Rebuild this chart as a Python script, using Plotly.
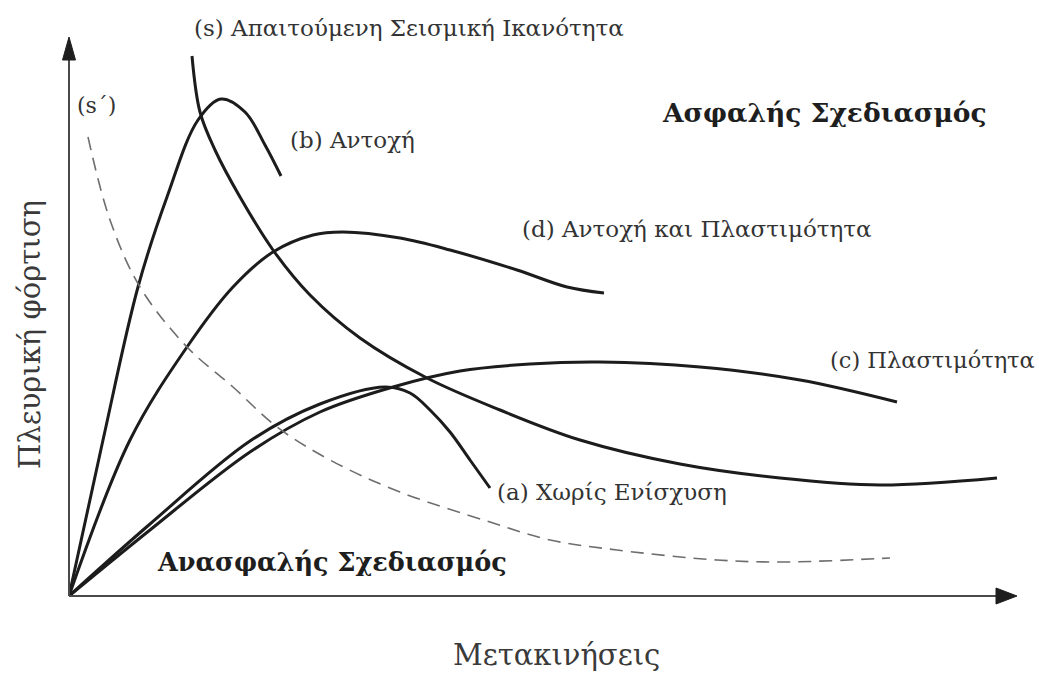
import plotly.graph_objects as go

# Schematic load-displacement curves (arbitrary units: displacement, lateral load)
b_x = [0, 34, 69, 98, 129, 152, 176, 196, 212]
b_y = [0, 156, 309, 399, 476, 497, 484, 451, 420]

d_x = [0, 61, 118, 164, 204, 244, 274, 331, 381, 448, 498, 535]
d_y = [0, 156, 249, 309, 344, 361, 364, 358, 346, 326, 309, 303]

c_x = [0, 81, 181, 251, 324, 391, 461, 531, 631, 731, 828]
c_y = [0, 66, 144, 184, 209, 225, 232, 234, 229, 216, 194]

a_x = [0, 81, 181, 251, 316, 341, 361, 381, 401, 421]
a_y = [0, 72, 155, 192, 209, 203, 186, 164, 136, 108]

# required seismic capacity (s) and reduced demand (s')
s_x = [123, 131, 146, 171, 204, 241, 291, 358, 431, 511, 611, 711, 811, 928]
s_y = [540, 484, 446, 399, 346, 301, 258, 218, 186, 156, 132, 118, 111, 118]

sp_x = [19, 41, 71, 118, 164, 208, 261, 331, 421, 481, 548, 648, 714, 821]
sp_y = [459, 376, 309, 249, 209, 169, 136, 104, 74, 56, 46, 36, 34, 38]

X_MAX, Y_MAX = 960, 560
X_TIP, Y_TIP = 948, 559

FONT = "DejaVu Serif, Liberation Serif, serif"
CURVE = "#1c1c1c"

fig = go.Figure()

for xs, ys in [(b_x, b_y), (d_x, d_y), (c_x, c_y), (a_x, a_y), (s_x, s_y)]:
    fig.add_trace(go.Scatter(
        x=xs, y=ys, mode="lines",
        line=dict(color=CURVE, width=3, shape="spline", smoothing=1.0),
        hoverinfo="skip", showlegend=False, cliponaxis=False,
    ))

fig.add_trace(go.Scatter(
    x=sp_x, y=sp_y, mode="lines",
    line=dict(color="#6e6e6e", width=1.6, dash="13px,8px", shape="spline", smoothing=1.0),
    hoverinfo="skip", showlegend=False, cliponaxis=False,
))


def px(v):
    return v / X_MAX


def py(v):
    return v / Y_MAX


# axes with arrowheads (paper coordinates so nothing is clipped)
axis_col = "#4a4a4a"
head = "#1e1e1e"
shapes = [
    dict(type="line", xref="paper", yref="paper",
         x0=0, y0=0, x1=px(X_TIP - 18), y1=0, line=dict(color=axis_col, width=2)),
    dict(type="line", xref="paper", yref="paper",
         x0=0, y0=0, x1=0, y1=py(Y_TIP - 18), line=dict(color=axis_col, width=2)),
    dict(type="path", xref="paper", yref="paper",
         path=f"M {px(X_TIP)},0 L {px(X_TIP-21)},{py(8)} L {px(X_TIP-21)},{py(-8)} Z",
         fillcolor=head, line=dict(color=head, width=1)),
    dict(type="path", xref="paper", yref="paper",
         path=f"M 0,{py(Y_TIP)} L {px(-6.5)},{py(Y_TIP-23)} L {px(6.5)},{py(Y_TIP-23)} Z",
         fillcolor=head, line=dict(color=head, width=1)),
]


def label(text, x, y, size, bold=False, xanchor="left", color="#333333", angle=0):
    return dict(
        text=f"<b>{text}</b>" if bold else text,
        x=px(x), y=py(y), xref="paper", yref="paper", showarrow=False,
        xanchor=xanchor, yanchor="middle", textangle=angle,
        font=dict(family=FONT, size=size, color=color),
    )


annotations = [
    label("(s) Απαιτούμενη Σεισμική Ικανότητα", 123, 568, 23),
    label("(s΄)", 6, 491, 22),
    label("(b) Αντοχή", 219, 456, 23),
    label("Ασφαλής Σχεδιασμός", 591, 483, 26.5, bold=True, color="#1e1e1e"),
    label("(d) Αντοχή και Πλαστιμότητα", 451, 367, 23),
    label("(c) Πλαστιμότητα", 759, 236, 22.5),
    label("(a) Χωρίς Ενίσχυση", 426, 104, 23),
    label("Ανασφαλής Σχεδιασμός", 86, 34, 25.5, bold=True, color="#1e1e1e"),
    label("Μετακινήσεις", 487, -59, 29, xanchor="center", color="#3a3a3a"),
    label("Πλευρική φόρτιση", -39, 261, 29, xanchor="center", color="#3a3a3a", angle=-90),
]

fig.update_layout(
    width=1039, height=677,
    margin=dict(l=69, r=10, t=36, b=81),
    paper_bgcolor="white", plot_bgcolor="white",
    xaxis=dict(range=[0, X_MAX], visible=False, fixedrange=True),
    yaxis=dict(range=[0, Y_MAX], visible=False, fixedrange=True),
    shapes=shapes, annotations=annotations,
    showlegend=False,
)

fig.write_html("out.html")
